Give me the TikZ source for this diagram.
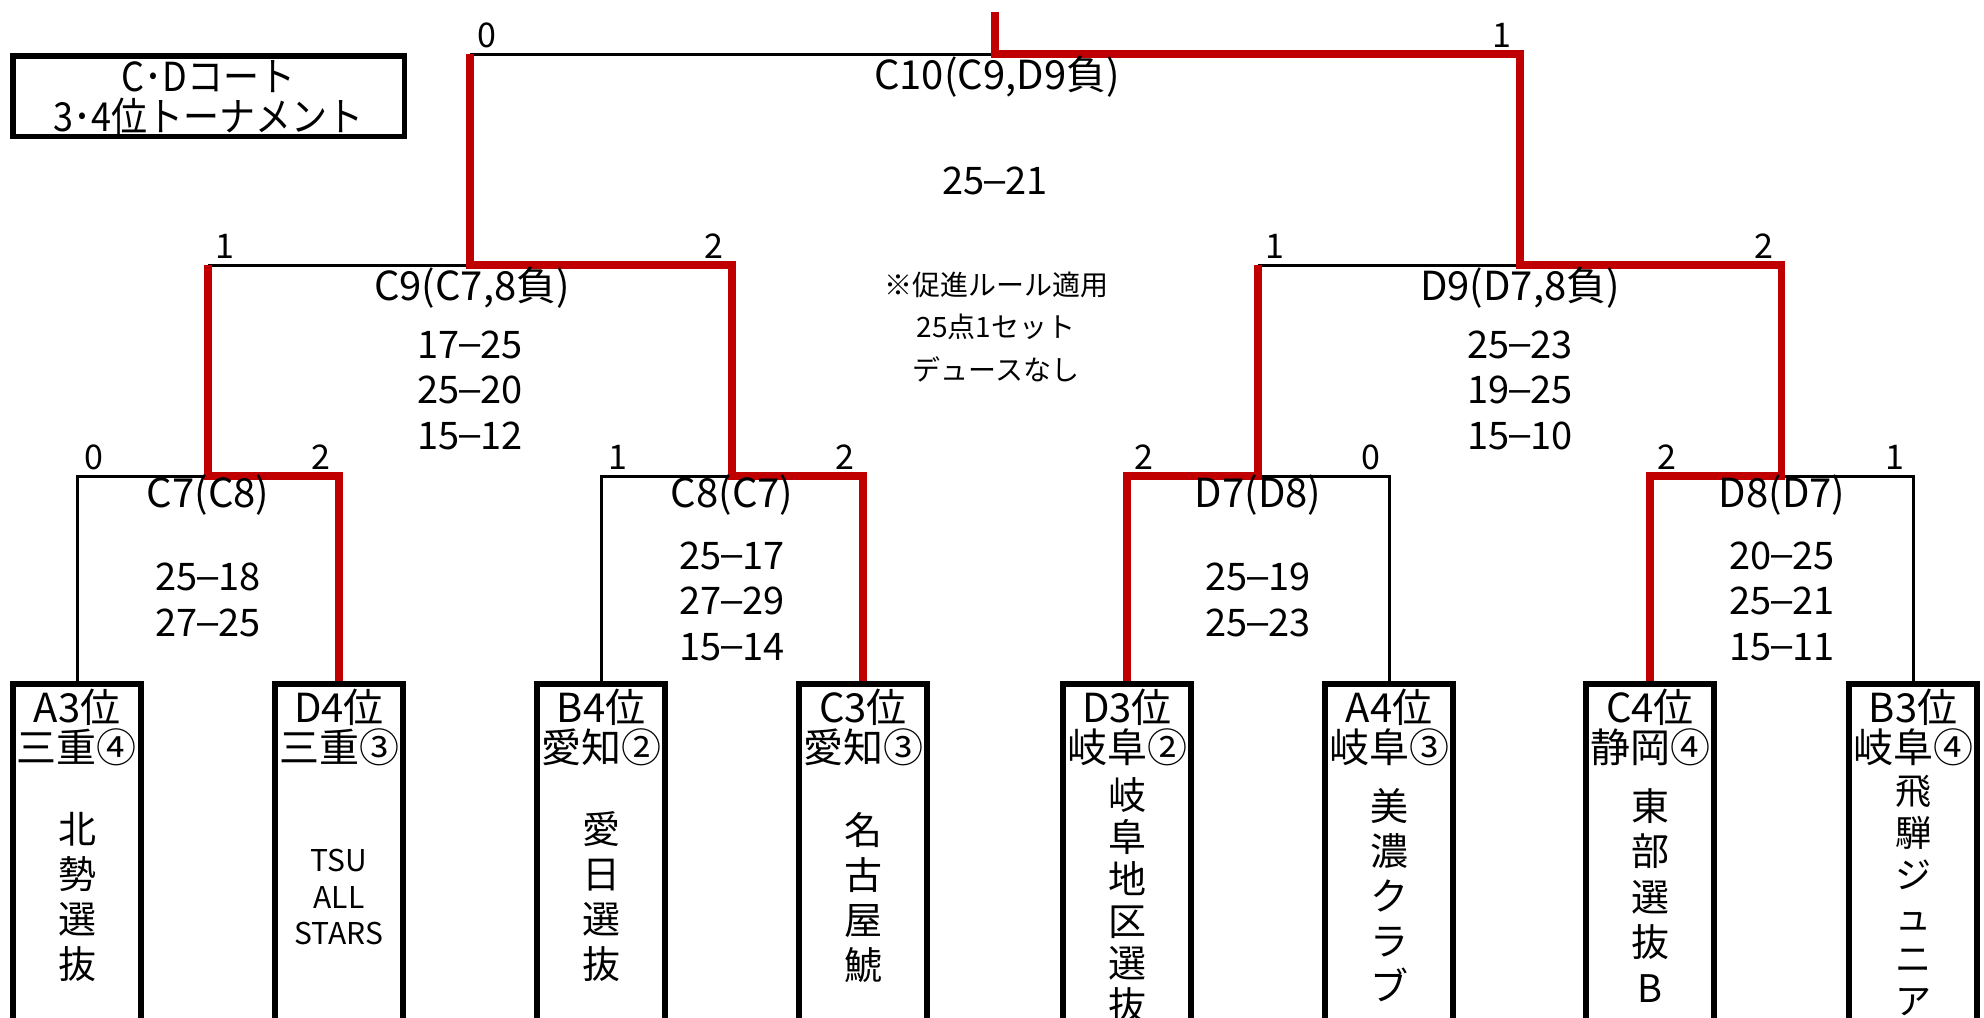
\documentclass[tikz,border=0pt]{standalone}
\usepackage{fontspec}
\setmainfont{Noto Sans CJK JP}
\newfontfamily\libsans{Liberation Sans}
\newfontfamily\ttljp[FakeStretch=0.9]{Noto Sans CJK JP}
\newcommand{\sd}{\raisebox{0.06em}{\libsans –}}
\definecolor{redline}{RGB}{192,0,0}
\begin{document}
\begin{tikzpicture}[x=0.5pt,y=-0.5pt,
  thinl/.style={line width=1.5pt, black, line join=miter},
  redl/.style={line width=3.75pt, redline, line join=miter},
  tbox/.style={draw, line width=2.75pt, minimum width=64pt, minimum height=188pt, inner sep=0pt},
  lbl/.style={font=\fontsize{20}{22.5}\selectfont, inner sep=0pt},
  win/.style={font=\fontsize{17}{20}\selectfont, inner sep=0pt},
  sc/.style={font=\fontsize{19}{22.75}\selectfont, inner sep=0pt, align=center},
  notefont/.style={font=\fontsize{14}{21.25}\selectfont, inner sep=0pt, align=center},
  vname/.style={font=\fontsize{19}{22.5}\selectfont, inner sep=0pt, align=center, anchor=north},
]
\useasboundingbox (0,0) rectangle (1984,1017);
\clip (0,0) rectangle (1984,1017);

% title
\node[draw, line width=2.75pt, minimum width=195.75pt, minimum height=40.25pt, inner sep=0pt] (title) at (208.5,96) {};
\node[font=\ttljp\fontsize{20}{20}\selectfont, align=center, inner sep=0pt] (titletext) at (208.5,98) {C･Dコート\\3･4位トーナメント};

% team boxes
\node[tbox] (B1) at (77,872) {};
\node[tbox] (B2) at (339,872) {};
\node[tbox] (B3) at (601,872) {};
\node[tbox] (B4) at (863,872) {};
\node[tbox] (B5) at (1127,872) {};
\node[tbox] (B6) at (1389,872) {};
\node[tbox] (B7) at (1650,872) {};
\node[tbox] (B8) at (1913,872) {};

\node[lbl] (B1r) at (77,707) {A3位};
\node[lbl] (B1p) at (77,747) {三重④};
\node[vname] (B1n) at (77,812) {北\\勢\\選\\抜};

\node[lbl] (B2r) at (339,707) {D4位};
\node[lbl] (B2p) at (339,747) {三重③};
\node[font=\fontsize{15}{18.25}\selectfont, inner sep=0pt, align=center] (B2n) at (339,897) {TSU\\ALL\\STARS};

\node[lbl] (B3r) at (601,707) {B4位};
\node[lbl] (B3p) at (601,747) {愛知②};
\node[vname] (B3n) at (601,811) {愛\\日\\選\\抜};

\node[lbl] (B4r) at (863,707) {C3位};
\node[lbl] (B4p) at (863,747) {愛知③};
\node[vname] (B4n) at (863,812) {名\\古\\屋\\鯱};

\node[lbl] (B5r) at (1127,707) {D3位};
\node[lbl] (B5p) at (1127,747) {岐阜②};
\node[vname, font=\fontsize{19}{21}\selectfont] (B5n) at (1127,777) {岐\\阜\\地\\区\\選\\抜};

\node[lbl] (B6r) at (1389,707) {A4位};
\node[lbl] (B6p) at (1389,747) {岐阜③};
\node[vname] (B6n) at (1389,788) {美\\濃\\ク\\ラ\\ブ};

\node[lbl] (B7r) at (1650,707) {C4位};
\node[lbl] (B7p) at (1650,747) {静岡④};
\node[vname, font=\fontsize{19}{22.75}\selectfont] (B7n) at (1650,788) {東\\部\\選\\抜\\B};

\node[lbl] (B8r) at (1913,707) {B3位};
\node[lbl] (B8p) at (1913,747) {岐阜④};
\node[vname, font=\fontsize{18}{21}\selectfont] (B8n) at (1913,775) {飛\\騨\\ジ\\ュ\\ニ\\ア};

% bracket coordinates
\coordinate (C7L) at (77,476);   \coordinate (C7R) at (339,476);  \coordinate (C7M) at (208,476);
\coordinate (C8L) at (601,476);  \coordinate (C8R) at (863,476);  \coordinate (C8M) at (732,476);
\coordinate (D7L) at (1127,476); \coordinate (D7R) at (1389,476); \coordinate (D7M) at (1258,476);
\coordinate (D8L) at (1650,476); \coordinate (D8R) at (1913,476); \coordinate (D8M) at (1781.5,476);
\coordinate (C9L) at (208,265);  \coordinate (C9R) at (732,265);  \coordinate (C9M) at (470,265);
\coordinate (D9L) at (1258,265); \coordinate (D9R) at (1781.5,265); \coordinate (D9M) at (1520,265);
\coordinate (C10L) at (470,54);  \coordinate (C10R) at (1520,54); \coordinate (C10M) at (995,54);
\coordinate (TOP) at (995,12);

% black lines
\draw[thinl] (B1.north) -- (C7L) -- (C7M);
\draw[thinl] (B3.north) -- (C8L) -- (C8M);
\draw[thinl] (D7M) -- (D7R) -- (B6.north);
\draw[thinl] (D8M) -- (D8R) -- (B8.north);
\draw[thinl] (C9L) -- (C9M);
\draw[thinl] (D9L) -- (D9M);
\draw[thinl] (C10L) -- (C10M);

% red lines
\draw[redl] (B2.north) -- (C7R) -- (C7M) -- (C9L);
\draw[redl] (B4.north) -- (C8R) -- (C8M) -- (C9R) -- (C9M) -- (C10L);
\draw[redl] (B5.north) -- (D7L) -- (D7M) -- (D9L);
\draw[redl] (B7.north) -- (D8L) -- (D8M) -- (D9R) -- (D9M) -- (C10R) -- (C10M) -- (TOP);

% set counts
\node[win, anchor=south west] (w10l) at ([shift={(7,-6)}]C10L) {0};
\node[win, anchor=south east] (w10r) at ([shift={(-8,-6)}]C10R) {1};
\node[win, anchor=south west] (w9cl) at ([shift={(7,-6)}]C9L) {1};
\node[win, anchor=south east] (w9cr) at ([shift={(-8,-6)}]C9R) {2};
\node[win, anchor=south west] (w9dl) at ([shift={(7,-6)}]D9L) {1};
\node[win, anchor=south east] (w9dr) at ([shift={(-8,-6)}]D9R) {2};
\node[win, anchor=south west] (w7cl) at ([shift={(7,-6)}]C7L) {0};
\node[win, anchor=south east] (w7cr) at ([shift={(-8,-6)}]C7R) {2};
\node[win, anchor=south west] (w8cl) at ([shift={(7,-6)}]C8L) {1};
\node[win, anchor=south east] (w8cr) at ([shift={(-8,-6)}]C8R) {2};
\node[win, anchor=south west] (w7dl) at ([shift={(7,-6)}]D7L) {2};
\node[win, anchor=south east] (w7dr) at ([shift={(-8,-6)}]D7R) {0};
\node[win, anchor=south west] (w8dl) at ([shift={(7,-6)}]D8L) {2};
\node[win, anchor=south east] (w8dr) at ([shift={(-8,-6)}]D8R) {1};

% match labels
\node[lbl] (m10) at (997,77) {C10(C9,D9負)};
\node[lbl] (m9c) at (472,288) {C9(C7,8負)};
\node[lbl] (m9d) at (1520,288) {D9(D7,8負)};
\node[lbl] (m7c) at (208,495) {C7(C8)};
\node[lbl] (m8c) at (732,495) {C8(C7)};
\node[lbl] (m7d) at (1258,495) {D7(D8)};
\node[lbl] (m8d) at (1782,495) {D8(D7)};

% scores
\node[sc] (s10) at (995,181) {25\sd21};
\node[sc] (s9c) at (470,390) {17\sd25\\25\sd20\\15\sd12};
\node[sc] (s9d) at (1520,390) {25\sd23\\19\sd25\\15\sd10};
\node[sc] (s7c) at (208,600) {25\sd18\\27\sd25};
\node[sc] (s8c) at (732,601) {25\sd17\\27\sd29\\15\sd14};
\node[sc] (s7d) at (1258,600) {25\sd19\\25\sd23};
\node[sc] (s8d) at (1782,601) {20\sd25\\25\sd21\\15\sd11};

% note
\node[notefont] (note) at (996,327) {※促進ルール適用\\25点1セット\\デュースなし};
\end{tikzpicture}
\end{document}
